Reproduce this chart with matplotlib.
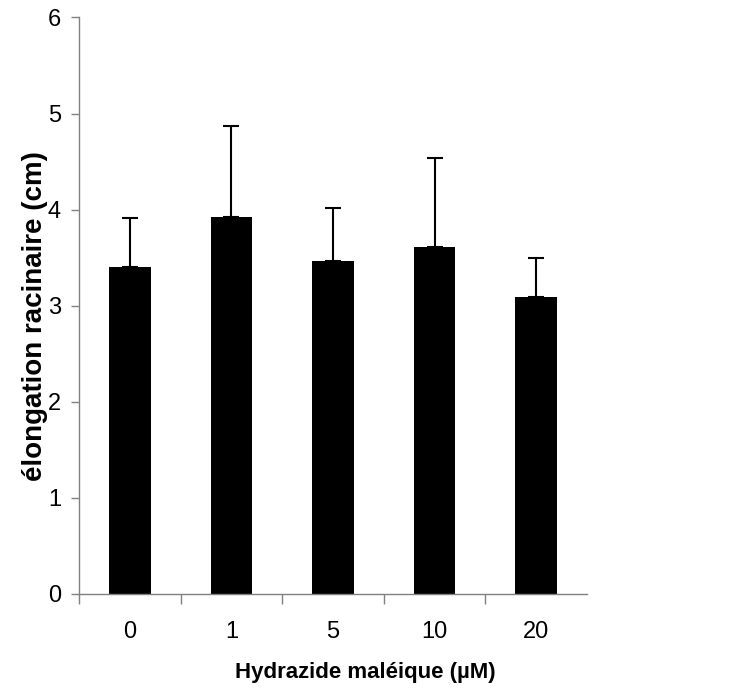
import matplotlib
matplotlib.use("Agg")
import matplotlib.pyplot as plt
import numpy as np

doses = ["0", "1", "5", "10", "20"]
elongation = [3.40, 3.92, 3.46, 3.61, 3.09]
sd = [0.51, 0.955, 0.56, 0.93, 0.41]

plt.rcParams['font.family'] = ['Liberation Sans', 'DejaVu Sans']

fig = plt.figure(figsize=(7.33, 6.91), dpi=100)
ax = fig.add_axes([0.1078, 0.1408, 0.6930, 0.8339])

x = np.arange(len(doses))
ax.bar(x, elongation, width=0.41, color='black', zorder=2)
ax.errorbar(x, elongation, yerr=[np.zeros(len(sd)), sd], fmt='none',
            ecolor='black', elinewidth=1.5, capsize=5.8, capthick=1.5, zorder=3)

ax.set_xlim(-0.5, len(doses) - 0.5)
ax.set_ylim(0, 6)
ax.set_yticks(range(0, 7))

# category labels centred, tick marks between categories
ax.set_xticks(x)
ax.set_xticklabels(doses)
ax.tick_params(axis='x', which='major', length=0, pad=20, labelsize=17)
ax.set_xticks(np.arange(-0.5, len(doses) - 0.5), minor=True)
ax.tick_params(axis='x', which='minor', length=7, width=1, color='#808080')
ax.tick_params(axis='y', length=6, width=1, color='#808080', labelsize=17, pad=7)

for s in ['top', 'right']:
    ax.spines[s].set_visible(False)
for s in ['left', 'bottom']:
    ax.spines[s].set_color('#808080')
    ax.spines[s].set_linewidth(1)

xl = ax.set_xlabel("Hydrazide maléique (µM)", fontsize=16, fontweight='bold')
xl.set_va('center')
ax.xaxis.set_label_coords(0.563, -0.137)
yl = ax.set_ylabel("élongation racinaire (cm)", fontsize=20, fontweight='bold')
yl.set_va('center')
ax.yaxis.set_label_coords(-0.087, 0.482)

fig.savefig("out.png", dpi=100)
